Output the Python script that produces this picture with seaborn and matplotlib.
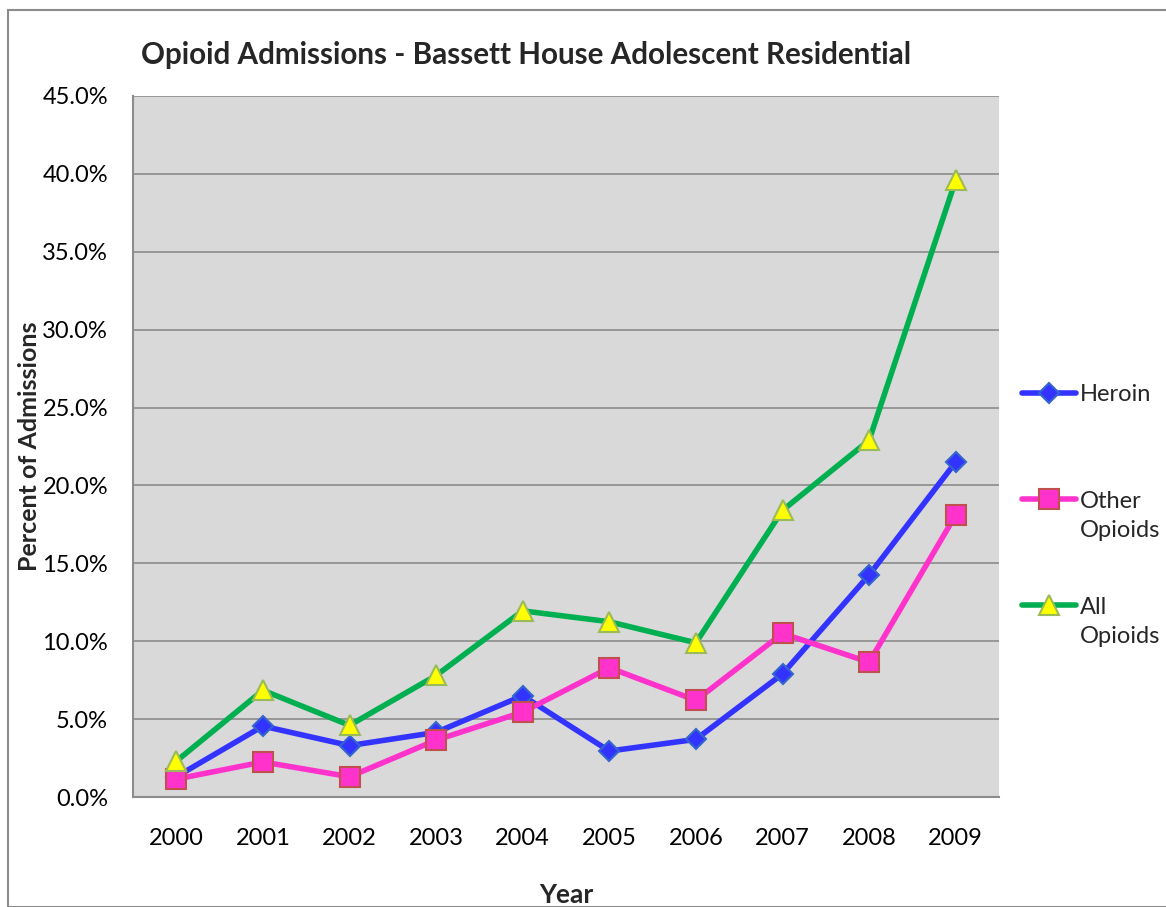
import matplotlib
matplotlib.use("Agg")
import matplotlib.pyplot as plt
import seaborn as sns
import pandas as pd
import numpy as np
from matplotlib.patches import Rectangle
from matplotlib.transforms import Affine2D
from matplotlib.ticker import FuncFormatter, MultipleLocator

years = ["2000", "2001", "2002", "2003", "2004", "2005", "2006", "2007", "2008", "2009"]
heroin = [1.3, 4.55, 3.3, 4.15, 6.5, 2.95, 3.7, 7.9, 14.25, 21.5]
other_opioids = [1.15, 2.25, 1.3, 3.65, 5.45, 8.3, 6.2, 10.5, 8.65, 18.1]
all_opioids = [2.3, 6.85, 4.6, 7.8, 11.95, 11.25, 9.9, 18.4, 22.9, 39.6]

sns.set_theme(style="white")
plt.rcParams['font.family'] = ['Lato', 'DejaVu Sans']

fig = plt.figure(figsize=(11.66, 9.07), dpi=100)
W, H = 1166, 907
ax = fig.add_axes([133 / W, 1 - 797 / H, (999 - 133) / W, (797 - 96) / H])
ax.set_facecolor("#d9d9d9")

x = np.arange(len(years))
df = pd.DataFrame({"x": x, "Heroin": heroin, "Other Opioids": other_opioids, "All Opioids": all_opioids})

series = [
    ("Heroin", "Heroin\n", "#3333ff", "D", 10, "#3366cc", "#3333ff"),
    ("Other Opioids", "Other\nOpioids", "#ff33cc", "s", 15, "#c0504d", "#ff33cc"),
    ("All Opioids", "All\nOpioids", "#00b050", "^", 15, "#9bbb59", "#ffff00"),
]
for col, lab, color, mk, ms, mec, mfc in series:
    sns.lineplot(data=df, x="x", y=col, ax=ax, color=color, lw=4, marker=mk,
                 markersize=ms, markeredgecolor=mec, markerfacecolor=mfc,
                 markeredgewidth=1.5, label=lab, zorder=3,
                 solid_capstyle="round")

ax.set_xlim(-0.5, 9.5)
ax.set_ylim(0, 45)
ax.yaxis.set_major_locator(MultipleLocator(5))
ax.yaxis.set_major_formatter(FuncFormatter(lambda v, p: f"{v:.1f}%"))
ax.set_xticks(x)
ax.set_xticklabels(years)
ax.grid(axis="y", color="#8c8c8c", lw=1.2)
ax.set_axisbelow(True)
for s in ["top", "right"]:
    ax.spines[s].set_visible(False)
for s in ["left", "bottom"]:
    ax.spines[s].set_color("#8c8c8c")
    ax.spines[s].set_linewidth(1.5)
ax.tick_params(axis="both", labelsize=17, length=0, colors="black")
ax.tick_params(axis="x", pad=22)
ax.tick_params(axis="y", pad=18)

ax.set_xlabel("Year", fontsize=19, fontweight="bold", labelpad=25)
ax.set_ylabel("Percent of Admissions", fontsize=18, fontweight="bold", labelpad=1)
ax.set_title("Opioid Admissions - Bassett House Adolescent Residential", fontsize=21.3,
             fontweight="bold", x=0.454, pad=23)

leg = ax.legend(loc="upper left", bbox_to_anchor=(1.0266, 0.6127), frameon=False, fontsize=17,
                handlelength=2.3, handletextpad=0.15, labelspacing=2.36, borderaxespad=0,
                borderpad=0)
for t in leg.get_texts():
    t.set_linespacing(1.5)
    t.set_transform(t.get_transform() + Affine2D().translate(0, -17))

fig.patches.append(Rectangle((8 / W, 0), 1.2, 1 - 10 / H, transform=fig.transFigure,
                             fill=False, edgecolor="#8c8c8c", lw=1.5))

fig.savefig("out.png", dpi=100)
